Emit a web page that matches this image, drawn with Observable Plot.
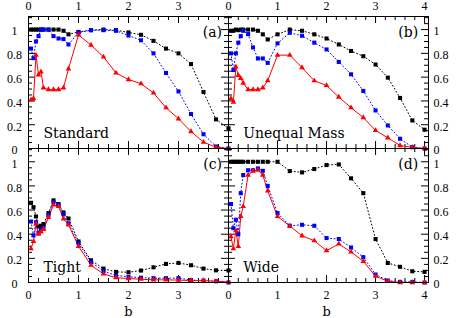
<!DOCTYPE html>
<html><head><meta charset="utf-8">
<script src="https://cdn.jsdelivr.net/npm/d3@7"></script>
<script src="https://cdn.jsdelivr.net/npm/@observablehq/plot@0.6"></script>
<style>
html,body{margin:0;padding:0;background:#fff;}
#chart{position:relative;width:457px;height:318px;}
#chart svg{position:absolute;left:0;top:0;overflow:visible;background:none;}
</style></head><body><div id="chart"></div>
<script>
// impact parameter grid (x values)
const bValues = [0.05,0.1,0.15,0.2,0.25,0.3,0.4,0.5,0.6,0.7,0.8,1.0,1.25,1.5,1.75,2.0,2.25,2.5,2.75,3.0,3.25,3.5,3.75,4.0];

const panelLetters = ["(a)","(b)","(c)","(d)"];
const panelNames = ["Standard","Unequal Mass","Tight","Wide"];
const xTickLabelsLeft = [0,1,2,3];
const xTickLabelsRight = [0,1,2,3,4];
const yTickLabels = [0,0.2,0.4,0.6,0.8,1];
const xAxisTitle = "b";

// (a) Standard
const standardBlack = [1.0,1.0,1.0,1.0,1.0,1.0,1.0,1.0,1.0,0.99,0.96,0.98,0.995,1.0,0.995,0.976,0.956,0.905,0.84,0.80,0.71,0.475,0.245,0.17];
const standardBlue  = [0.84,0.76,0.90,0.945,1.0,1.0,1.0,0.945,0.925,0.92,0.875,0.975,0.995,0.995,0.99,0.95,0.91,0.80,0.635,0.48,0.29,0.12,0.017,0.0];
const standardRed   = [0.41,0.42,0.785,0.62,0.645,0.51,0.495,0.495,0.495,0.51,0.67,0.955,0.87,0.77,0.635,0.58,0.545,0.467,0.343,0.25,0.143,0.053,0.011,0.0];
// (b) Unequal Mass
const unequalBlack = [0.99,0.99,1.0,0.995,1.0,1.0,1.0,1.0,0.99,0.96,0.917,0.96,1.0,0.99,0.96,0.925,0.875,0.82,0.776,0.706,0.596,0.425,0.236,0.158];
const unequalBlue  = [0.80,0.66,0.80,0.89,0.945,0.99,0.962,0.85,0.757,0.757,0.72,0.884,0.973,0.948,0.89,0.833,0.728,0.624,0.484,0.32,0.194,0.082,0.011,0.0];
const unequalRed   = [0.42,0.39,0.686,0.616,0.59,0.55,0.495,0.495,0.495,0.51,0.57,0.785,0.785,0.68,0.57,0.53,0.433,0.343,0.26,0.152,0.09,0.025,0.01,0.0];
// (c) Tight
const tightBlack = [0.66,0.624,0.547,0.464,0.47,0.484,0.575,0.68,0.65,0.58,0.53,0.34,0.184,0.115,0.088,0.085,0.099,0.126,0.154,0.162,0.143,0.115,0.101,0.1];
const tightBlue  = [0.505,0.39,0.5,0.41,0.44,0.455,0.56,0.665,0.643,0.566,0.49,0.327,0.17,0.093,0.06,0.047,0.04,0.036,0.036,0.036,0.02,0.016,0.01,0.0];
const tightRed   = [0.28,0.34,0.486,0.40,0.42,0.44,0.54,0.643,0.63,0.528,0.478,0.30,0.143,0.071,0.04,0.033,0.027,0.022,0.022,0.02,0.016,0.016,0.01,0.005];
// (d) Wide
const wideBlack = [1,1,1,1,1,1,1,1,1,1,1,1.0,0.923,0.912,0.94,0.973,0.978,0.863,0.74,0.36,0.162,0.13,0.093,0.088];
const wideBlue  = [0.65,0.45,0.52,0.40,0.74,0.89,0.93,0.93,0.945,0.925,0.80,0.575,0.47,0.478,0.47,0.368,0.36,0.29,0.21,0.066,0.016,0.005,0.005,0.0];
const wideRed   = [0.38,0.28,0.43,0.30,0.547,0.63,0.89,0.923,0.93,0.89,0.76,0.547,0.468,0.387,0.346,0.264,0.319,0.253,0.176,0.052,0.01,0.0,0.0,0.0];

const panels = [
  {letter: panelLetters[0], name: panelNames[0], col: "left",  row: "top",    black: standardBlack, blue: standardBlue, red: standardRed},
  {letter: panelLetters[1], name: panelNames[1], col: "right", row: "top",    black: unequalBlack,  blue: unequalBlue,  red: unequalRed},
  {letter: panelLetters[2], name: panelNames[2], col: "left",  row: "bottom", black: tightBlack,    blue: tightBlue,    red: tightRed},
  {letter: panelLetters[3], name: panelNames[3], col: "right", row: "bottom", black: wideBlack,     blue: wideBlue,     red: wideRed}
];

const W = 457, H = 318;
const colGeom = {
  left:  {ml: 28,  mr: 229, xmax: 4.0,  xt: xTickLabelsLeft,  yAnchor: "left"},
  right: {ml: 228, mr: 29,  xmax: 4.08, xt: xTickLabelsRight, yAnchor: "right"}
};
const rowGeom = {
  top:    {mt: 16,  mb: 170, xAnchor: "top"},
  bottom: {mt: 148, mb: 36,  xAnchor: "bottom"}
};
const YMAX = 1.11;
const MAJ = 7, MIN = 4;
const serif = "DejaVu Serif";
const tickFont = "Liberation Serif";

const chart = document.getElementById("chart");

for (const p of panels) {
  const cg = colGeom[p.col], rg = rowGeom[p.row];
  const innerW = W - cg.ml - cg.mr, innerH = H - rg.mt - rg.mb;
  const xMajor = xTickLabelsRight.filter(d => d <= cg.xmax);
  const xMinor = d3.range(1, 21).map(i => i / 5).filter(d => !Number.isInteger(d) && d < cg.xmax);
  const yMajor = yTickLabels;
  const yMinor = d3.range(1, 23).map(i => i / 20).filter((d, i) => (i + 1) % 4 !== 0 && d < YMAX);

  const series = [
    {vals: p.black, color: "#000000", dash: "1,2.5", symbol: "square",   r: 2.3},
    {vals: p.blue,  color: "#0000ff", dash: "1,2.5", symbol: "square",   r: 2.3},
    {vals: p.red,   color: "#ff0000", dash: null,    symbol: "triangle", r: 2.1}
  ];

  const marks = [];
  // inward ticks on all four sides
  for (const [vals, len] of [[xMajor, MAJ], [xMinor, MIN]]) {
    marks.push(Plot.tickX(vals, {x: d => d, insetTop: innerH - len, stroke: "#000", strokeWidth: 1}));
    marks.push(Plot.tickX(vals, {x: d => d, insetBottom: innerH - len, stroke: "#000", strokeWidth: 1}));
  }
  for (const [vals, len] of [[yMajor, MAJ], [yMinor, MIN]]) {
    marks.push(Plot.tickY(vals, {y: d => d, insetRight: innerW - len, stroke: "#000", strokeWidth: 1}));
    marks.push(Plot.tickY(vals, {y: d => d, insetLeft: innerW - len, stroke: "#000", strokeWidth: 1}));
  }
  // tick labels
  marks.push(Plot.axisX(cg.xt, {
    anchor: rg.xAnchor, tickSize: 0, tickPadding: rg.xAnchor === "top" ? 10.5 : 12.5,
    lineAnchor: "middle", tickFormat: d => String(d), label: null,
    fontFamily: tickFont, fontSize: 12
  }));
  marks.push(Plot.axisY(yTickLabels, {
    anchor: cg.yAnchor, tickSize: 0, tickPadding: cg.yAnchor === "left" ? 14 : 5,
    textAnchor: cg.yAnchor === "left" ? "middle" : "start", dy: 2,
    tickFormat: d => String(d), label: null,
    fontFamily: tickFont, fontSize: 12
  }));
  // data
  for (const s of series) {
    const data = bValues.map((b, i) => ({b, v: s.vals[i]}));
    marks.push(Plot.line(data, {x: "b", y: "v", stroke: s.color, strokeWidth: 1, strokeDasharray: s.dash}));
  }
  for (const s of series) {
    const data = bValues.map((b, i) => ({b, v: s.vals[i]}));
    marks.push(Plot.dot(data, {x: "b", y: "v", symbol: s.symbol, r: s.r, fill: s.color, stroke: "none"}));
  }
  marks.push(Plot.frame({stroke: "#000", strokeWidth: 1}));
  // panel labels
  marks.push(Plot.text([p.letter], {x: 3.87, y: 0.975, text: d => d, textAnchor: "end", fontFamily: serif, fontSize: 14, fill: "#000"}));
  marks.push(Plot.text([p.name], {x: 0.3, y: 0.125, text: d => d, textAnchor: "start", fontFamily: serif, fontSize: 14, fill: "#000"}));
  if (p.row === "bottom") {
    marks.push(Plot.text([xAxisTitle], {x: 2, frameAnchor: "bottom", dy: 29, lineAnchor: "middle", text: d => d, fontFamily: serif, fontSize: 13, fill: "#000"}));
  }

  const svg = Plot.plot({
    width: W, height: H,
    marginLeft: cg.ml, marginRight: cg.mr, marginTop: rg.mt, marginBottom: rg.mb,
    x: {domain: [0, cg.xmax]},
    y: {domain: [0, YMAX]},
    style: {background: "none", color: "#000", fontFamily: tickFont, fontSize: "12px", overflow: "visible"},
    marks
  });
  chart.appendChild(svg);
}
</script>
</body></html>
